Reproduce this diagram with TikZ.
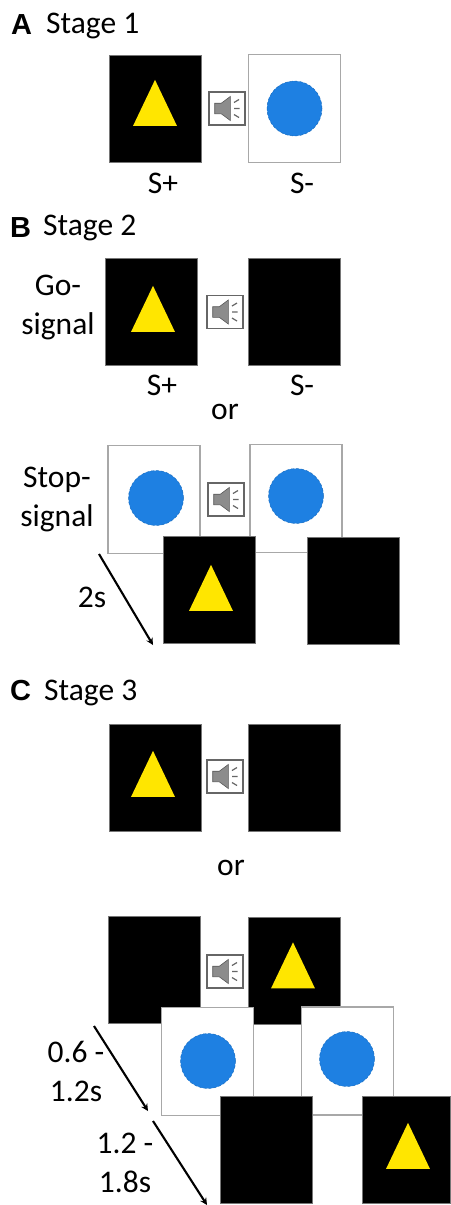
\documentclass[tikz,border=0pt]{standalone}
\usepackage{fontspec}
\setmainfont{Carlito}
\newfontfamily\panelfont{Liberation Sans}
\usetikzlibrary{positioning, shapes.geometric}

\definecolor{cueblue}{RGB}{30,128,226}
\definecolor{cueyellow}{RGB}{255,230,0}
\definecolor{edgegray}{RGB}{168,168,168}

\tikzset{
  blackcard/.style = {rectangle, draw=edgegray!70!black, line width=1pt, fill=black, inner sep=0pt, minimum width=92pt, minimum height=107pt},
  whitecard/.style = {rectangle, draw=edgegray, line width=1.8pt, fill=white, inner sep=0pt, minimum width=92pt, minimum height=108pt},
  tri/.style = {isosceles triangle, isosceles triangle apex angle=51, shape border rotate=90, fill=cueyellow, inner sep=0pt, minimum height=46pt},
  dot/.style = {circle, fill=cueblue, draw=cueblue!85!black, densely dashed, line width=.5pt, inner sep=0pt, minimum size=55pt},
  spk/.style = {rectangle, draw=black!60, line width=1.2pt, fill=white, inner sep=0pt, minimum width=36pt, minimum height=33pt},
  txt/.style = {font=\fontsize{31.5}{39}\selectfont, align=center, inner sep=0pt},
  stagetxt/.style = {txt, anchor=base west},
  panel/.style = {font=\panelfont\bfseries\fontsize{29}{34}\selectfont, anchor=base west, inner sep=0pt},
  timearrow/.style = {->, >=stealth, line width=2.1pt},
  speakericon/.pic = {
    \fill[black!45, draw=black!65, line width=.6pt] (-12.3,-5.3) -- (-5.7,-5.3) -- (3.3,-12) -- (3.3,12) -- (-5.7,5.3) -- (-12.3,5.3) -- cycle;
    \draw[black!60, line width=1.2pt] (7,-6) -- (12,-9) (7,0) -- (12.5,0) (7,6) -- (12,9);
  }
}

\begin{document}
\begin{tikzpicture}[x=1pt, y=-1pt, node distance=139pt, on grid]
  \useasboundingbox (0,0) rectangle (450,1205);

  % A
  \node[panel] (pa) at (11,34) {A};
  \node[stagetxt] (sa) at (46,33) {Stage 1};
  \node[blackcard] (a1) at (155.5,108.5) {};
  \node[whitecard] (a2) [right=of a1] {};
  \node[tri] (a1t) at (155,112) {};
  \node[dot] (a2c) at (a2) {};
  \node[spk] (a3) at (227,108.5) {};
  \pic at (a3) {speakericon};
  \node[txt] (a4) at (163,183) {S+};
  \node[txt] (a5) [right=of a4] {S-};

  % B
  \node[panel] (pb) at (10,237) {B};
  \node[stagetxt] (sb) at (43,235) {Stage 2};
  \node[txt] (go) at (58,307) {Go-\\signal};
  \node[blackcard] (b1) at (151,311.5) {};
  \node[blackcard] (b2) at (294.5,311.5) {};
  \node[tri] (b1t) at (153,318) {};
  \node[spk] (b3) at (225,312) {};
  \pic at (b3) {speakericon};
  \node[txt] (b4) at (162,385) {S+};
  \node[txt] (b5) [right=140pt of b4] {S-};
  \node[txt] (b6) at (225,412) {or};

  \node[txt] (stop) at (57,499) {Stop-\\signal};
  \node[whitecard] (b7) at (154,499.5) {};
  \node[whitecard] (b8) at (296,498.5) {};
  \node[dot] (b7c) at (156,498) {};
  \node[dot] (b8c) at (296,496) {};
  \node[spk] (b9) at (226,499.5) {};
  \pic at (b9) {speakericon};
  \node[blackcard] (b10) at (209.5,589.5) {};
  \node[blackcard] (b11) at (353,591) {};
  \node[tri] (b10t) at (211,597) {};
  \node[txt] (t1) at (92,597) {2s};
  \coordinate (t1a) at (99,554);
  \coordinate (t1b) at (153,645);
  \draw[timearrow] (t1a) -- (t1b);

  % C
  \node[panel] (pc) at (10,700) {C};
  \node[stagetxt] (sc) at (44,700) {Stage 3};
  \node[blackcard] (c1) at (155,777.5) {};
  \node[blackcard] (c2) at (294.5,777.5) {};
  \node[tri] (c1t) at (153,783) {};
  \node[spk] (c3) at (225,776.5) {};
  \pic at (c3) {speakericon};
  \node[txt] (c4) at (231,868) {or};

  \node[blackcard] (c5) at (154.5,969.5) {};
  \node[blackcard] (c6) at (294,970.5) {};
  \node[tri] (c6t) at (293,974.5) {};
  \node[spk] (c7) at (225,971.5) {};
  \pic at (c7) {speakericon};
  \node[whitecard] (c8) at (207.5,1061.5) {};
  \node[whitecard] (c9) at (347.5,1061) {};
  \node[dot] (c8c) at (208,1061) {};
  \node[dot] (c9c) at (347,1059) {};
  \node[blackcard] (c10) at (266,1150) {};
  \node[blackcard, minimum width=88pt] (c11) at (406,1150) {};
  \node[tri] (c11t) at (408,1155) {};
  \node[txt] (t2) at (76,1071) {0.6 -\\1.2s};
  \node[txt] (t3) at (125,1163) {1.2 -\\1.8s};
  \coordinate (t2a) at (94,1026);
  \coordinate (t2b) at (148,1111);
  \coordinate (t3a) at (153,1121);
  \coordinate (t3b) at (207,1205);
  \draw[timearrow] (t2a) -- (t2b);
  \draw[timearrow] (t3a) -- (t3b);
\end{tikzpicture}
\end{document}
